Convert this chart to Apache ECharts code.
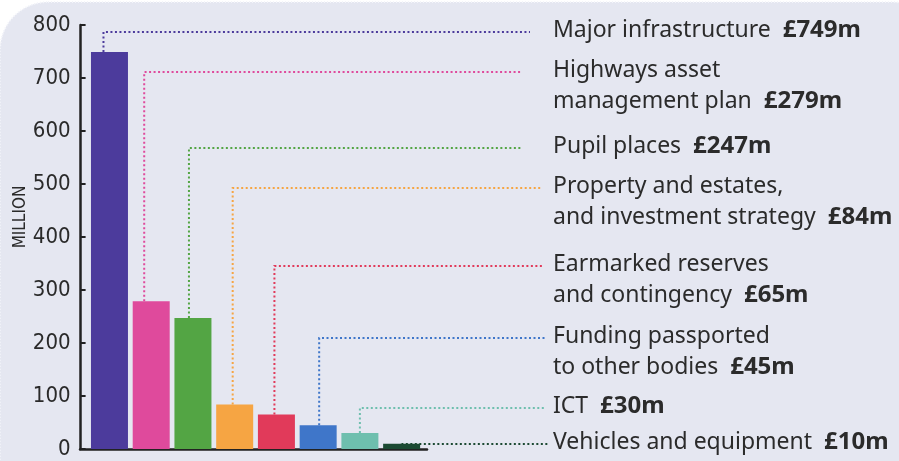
<!DOCTYPE html>
<html>
<head>
<meta charset="utf-8">
<script src="https://cdn.jsdelivr.net/npm/echarts@6/dist/echarts.min.js"></script>
<style>
  html, body { margin: 0; padding: 0; background: #ffffff; }
  #main { width: 899px; height: 461px; }
</style>
</head>
<body>
<div id="main"></div>
<script>
'use strict';

// data
let categories = [
	'Major infrastructure',
	'Highways asset management plan',
	'Pupil places',
	'Property and estates, and investment strategy',
	'Earmarked reserves and contingency',
	'Funding passported to other bodies',
	'ICT',
	'Vehicles and equipment'
];
let values = [749, 279, 247, 84, 65, 45, 30, 10];
let labelLines = [
	['Major infrastructure'],
	['Highways asset', 'management plan'],
	['Pupil places'],
	['Property and estates,', 'and investment strategy'],
	['Earmarked reserves', 'and contingency'],
	['Funding passported', 'to other bodies'],
	['ICT'],
	['Vehicles and equipment']
];
let valueTexts = ['£749m', '£279m', '£247m', '£84m', '£65m', '£45m', '£30m', '£10m'];
let yTicks = [0, 100, 200, 300, 400, 500, 600, 700, 800];

// layout / style
let colors = ['#4c3b9c', '#df4a9c', '#53a544', '#f6a543', '#e13a5a', '#3f76c9', '#6ebfae', '#1c4a33'];
let leaderY = [32, 72, 148, 188, 266, 338, 408, 444];
let leaderDx = [-6, -7, -4, -2, -2, 1, 0, 0];
let leaderEnd = [530, 522, 522, 542, 542, 545, 545, 548];
let textX = 553;
let lineH = 31;
let narrowFont = "'DejaVu Sans Condensed', 'Liberation Sans Narrow', sans-serif";

let myChart = echarts.init(document.getElementById('main'));

let option = {
	backgroundColor: '#ffffff',
	animation: false,
	graphic: [{
		type: 'rect',
		z: -10,
		silent: true,
		shape: { x: 0, y: 2, width: 940, height: 520, r: 48 },
		style: { fill: '#e5e7f1', stroke: '#f4f5fa', lineWidth: 2, lineDash: [1, 2] }
	}],
	grid: [{
		left: 88.6,
		right: 476.5,
		top: 25,
		bottom: 12
	}, {
		left: 80,
		right: 472,
		top: 25,
		bottom: 12
	}],
	xAxis: [{
		type: 'category',
		data: categories,
		gridIndex: 0,
		axisLine: { show: false },
		axisTick: { show: false },
		axisLabel: { show: false }
	}, {
		type: 'value',
		gridIndex: 1,
		min: 0,
		max: 1,
		axisLine: { show: true, lineStyle: { color: '#222', width: 2.5 } },
		axisTick: { show: false },
		axisLabel: { show: false },
		splitLine: { show: false }
	}],
	yAxis: [{
		type: 'value',
		gridIndex: 0,
		min: yTicks[0],
		max: yTicks[yTicks.length - 1],
		interval: 100,
		offset: 8,
		name: 'MILLION',
		nameLocation: 'middle',
		nameRotate: 90,
		nameGap: 48,
		nameTextStyle: {
			fontFamily: narrowFont,
			fontSize: 17,
			color: '#2a2a2a',
			padding: [0, 0, 0, 40]
		},
		axisLine: { show: true, lineStyle: { color: '#222', width: 2.5 } },
		axisTick: { show: true, inside: true, length: 5, lineStyle: { color: '#222', width: 2 } },
		axisLabel: {
			fontFamily: narrowFont,
			fontSize: 22,
			color: '#2a2a2a',
			margin: 10
		},
		splitLine: { show: false }
	}, {
		type: 'value',
		gridIndex: 1,
		show: false
	}],
	series: [{
		type: 'bar',
		xAxisIndex: 0,
		yAxisIndex: 0,
		barWidth: 37,
		data: values.map((v, i) => ({ value: v, itemStyle: { color: colors[i] } })),
		z: 3
	}, {
		type: 'custom',
		xAxisIndex: 0,
		yAxisIndex: 0,
		z: 2,
		data: values.map((v, i) => [i, v]),
		renderItem: function (params, api) {
			let i = params.dataIndex;
			let top = api.coord([api.value(0), api.value(1)]);
			let x = top[0] + leaderDx[i];
			let y = leaderY[i];
			let pts = [[x, top[1]], [x, y], [leaderEnd[i], y]];
			let lines = labelLines[i].slice();
			lines[lines.length - 1] = lines[lines.length - 1] + '  {b|' + valueTexts[i] + '}';
			return {
				type: 'group',
				children: [{
					type: 'polyline',
					shape: { points: pts },
					style: {
						stroke: colors[i],
						lineWidth: 2,
						lineDash: [2, 2.5],
						fill: null
					}
				}, {
					type: 'text',
					style: {
						text: lines.join('\n'),
						x: textX,
						y: y - 2 - lineH / 2,
						verticalAlign: 'top',
						align: 'left',
						fill: '#2b2b2b',
						fontFamily: 'Noto Sans',
						fontSize: 23,
						lineHeight: lineH,
						rich: {
							b: {
								fontFamily: 'Noto Sans',
								fontWeight: 'bold',
								fontSize: 24,
								lineHeight: lineH,
								fill: '#2b2b2b'
							}
						}
					}
				}]
			};
		}
	}]
};

myChart.setOption(option);
</script>
</body>
</html>
